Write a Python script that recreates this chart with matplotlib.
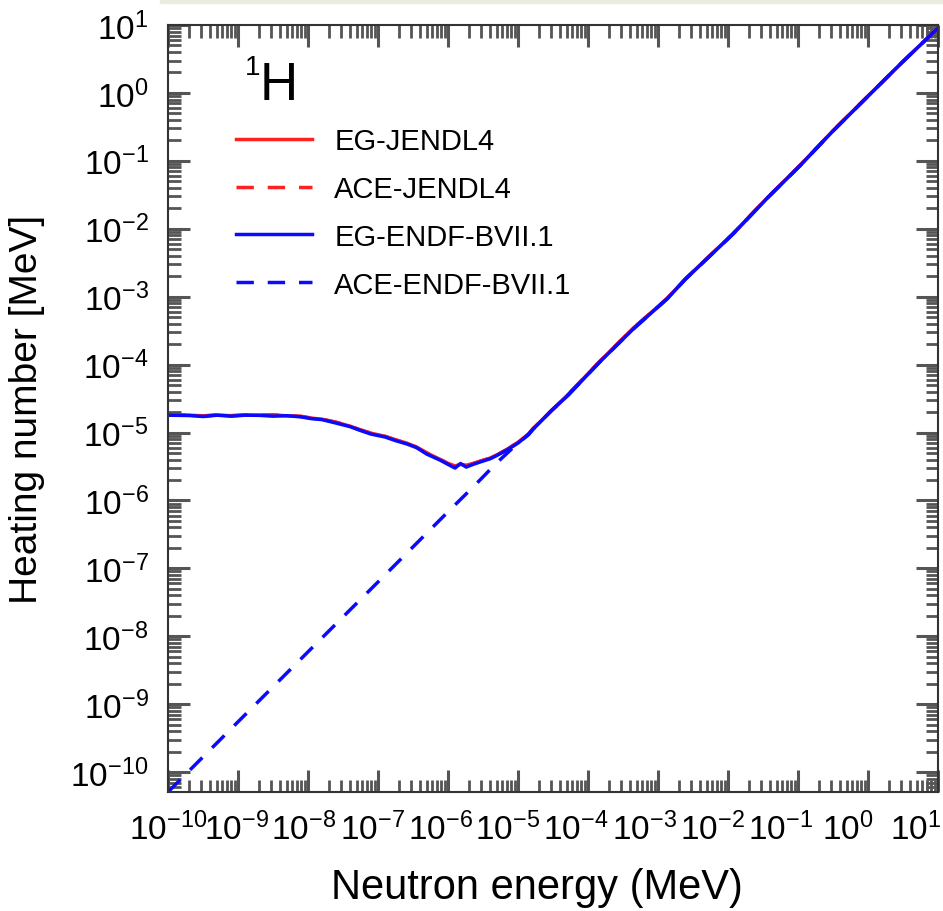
#!/usr/bin/env python3

# Heating number of 1H versus neutron energy, EG vs ACE, JENDL-4 and ENDF/B-VII.1

import matplotlib
matplotlib.use("Agg")
import matplotlib.pyplot as plt
from matplotlib.ticker import LogLocator, NullFormatter, FixedLocator
from matplotlib.patches import Rectangle
from matplotlib.transforms import ScaledTranslation

OUTPUT_FILENAME = "out.png"
FIGURE_SIZE     = (9.43, 9.12)

plt.rcParams['font.family'] = ['Liberation Sans', 'DejaVu Sans']
plt.rcParams['mathtext.fontset'] = 'custom'
plt.rcParams['mathtext.rm'] = 'Liberation Sans'
plt.rcParams['mathtext.it'] = 'Liberation Sans:italic'
plt.rcParams['mathtext.bf'] = 'Liberation Sans:bold'

# energies (MeV) of the EG curves
energy = [1.0e-10, 2.0e-10, 3.2e-10, 5.0e-10, 7.9e-10, 1.26e-9, 2.0e-9, 3.2e-9,
          5.0e-9, 7.9e-9, 1.12e-8, 1.58e-8, 2.5e-8, 4.0e-8, 5.5e-8, 7.9e-8,
          1.26e-7, 1.78e-7, 2.57e-7, 3.55e-7, 5.0e-7, 7.8e-7, 1.0e-6, 1.26e-6,
          1.51e-6, 1.82e-6, 2.29e-6, 3.16e-6, 3.98e-6, 5.0e-6, 7.1e-6, 1.0e-5,
          1.41e-5, 1.64e-5, 2.04e-5, 3.0e-5, 5.0e-5, 1.48e-4, 4.37e-4, 1.35e-3,
          2.45e-3, 1.17e-2, 3.63e-2, 1.07e-1, 3.16e-1, 9.1e-1, 3.16, 10.0]

h_endf = [1.80e-5, 1.78e-5, 1.72e-5, 1.80e-5, 1.74e-5, 1.80e-5, 1.79e-5, 1.74e-5,
          1.77e-5, 1.70e-5, 1.60e-5, 1.55e-5, 1.38e-5, 1.22e-5, 1.08e-5, 9.5e-6,
          8.6e-6, 7.6e-6, 6.8e-6, 6.0e-6, 4.8e-6, 3.9e-6, 3.4e-6, 3.0e-6,
          3.5e-6, 3.1e-6, 3.4e-6, 3.8e-6, 4.1e-6, 4.6e-6, 5.6e-6, 7.0e-6,
          9.3e-6, 1.12e-5, 1.40e-5, 2.1e-5, 3.4e-5, 1.10e-4, 3.3e-4, 9.3e-4,
          1.80e-3, 8.3e-3, 2.82e-2, 8.5e-2, 2.75e-1, 8.1e-1, 2.9, 9.0]

h_jendl = [1.82e-5, 1.80e-5, 1.76e-5, 1.81e-5, 1.77e-5, 1.81e-5, 1.80e-5, 1.82e-5,
           1.76e-5, 1.73e-5, 1.63e-5, 1.57e-5, 1.42e-5, 1.24e-5, 1.10e-5, 9.8e-6,
           8.8e-6, 7.8e-6, 7.0e-6, 6.1e-6, 5.0e-6, 4.0e-6, 3.5e-6, 3.2e-6,
           3.4e-6, 3.3e-6, 3.5e-6, 3.9e-6, 4.2e-6, 4.7e-6, 5.7e-6, 7.2e-6,
           9.5e-6, 1.14e-5, 1.42e-5, 2.1e-5, 3.5e-5, 1.12e-4, 3.4e-4, 9.4e-4,
           1.82e-3, 8.4e-3, 2.85e-2, 8.6e-2, 2.78e-1, 8.2e-1, 2.9, 9.0]

# ACE ENDF/B-VII.1 without the thermal part (falls on the EG curve above ~1e-5 MeV)
energy_ace_endf = [1.0e-10, 1.0e-9, 1.0e-8, 1.0e-7, 1.0e-6, 2.29e-6, 5.0e-6,
                   1.0e-5, 1.41e-5, 1.64e-5, 2.04e-5, 3.0e-5, 5.0e-5, 1.48e-4,
                   4.37e-4, 1.35e-3, 2.45e-3, 1.17e-2, 3.63e-2, 1.07e-1,
                   3.16e-1, 9.1e-1, 3.16, 10.0]
h_ace_endf = [5.1e-11, 5.5e-10, 5.9e-9, 6.3e-8, 6.8e-7, 1.58e-6, 3.6e-6,
              7.0e-6, 9.3e-6, 1.12e-5, 1.40e-5, 2.1e-5, 3.4e-5, 1.10e-4,
              3.3e-4, 9.3e-4, 1.80e-3, 8.3e-3, 2.82e-2, 8.5e-2,
              2.75e-1, 8.1e-1, 2.9, 9.0]

labels = ["EG-JENDL4", "ACE-JENDL4", "EG-ENDF-BVII.1", "ACE-ENDF-BVII.1"]

x_decades = [10.0**k for k in range(-10, 2)]

RED  = '#ff2020'
BLUE = '#0a0aff'
DASH = (5.0, 4.0)
LW   = 2.5

fig = plt.figure(figsize=FIGURE_SIZE, dpi=100)
fig.patches.append(Rectangle((160/943, 1 - 4/912), 1, 4/912, transform=fig.transFigure,
                             color='#ecebdf', zorder=0))
ax = fig.add_axes([168/943, 1 - 793/912, 770/943, 767/912])

ax.plot(energy, h_jendl, color=RED, lw=LW, label=labels[0])
ax.plot(energy, h_jendl, color=RED, lw=LW, dashes=DASH, label=labels[1])
ax.plot(energy, h_endf, color=BLUE, lw=LW, label=labels[2])
ax.plot(energy_ace_endf, h_ace_endf, color=BLUE, lw=LW, dashes=DASH, label=labels[3])

ax.set_xscale('log')
ax.set_yscale('log')
ax.set_xlim(1e-10, 10)
ax.set_ylim(5.1e-11, 10)

ax.xaxis.set_major_locator(FixedLocator(x_decades))
ax.yaxis.set_major_locator(LogLocator(base=10, numticks=30))
for axis in (ax.xaxis, ax.yaxis):
    axis.set_minor_locator(LogLocator(base=10, subs=range(2, 10), numticks=30))
    axis.set_minor_formatter(NullFormatter())

ax.tick_params(which='both', direction='in', top=True, right=True, color='#555555')
ax.tick_params(which='major', length=16, width=2.2, labelsize=24)
ax.tick_params(which='minor', length=9, width=2.0)
ax.tick_params(axis='x', which='major', pad=14)
ax.tick_params(axis='y', which='major', pad=14)

for s in ax.spines.values():
    s.set_linewidth(1.5)
    s.set_color('#333333')

ax.set_xlabel("Neutron energy (MeV)", fontsize=30)
ax.xaxis.set_label_coords(0.479, -0.098)
ax.set_ylabel("Heating number [MeV]", fontsize=28, labelpad=18)

ax.text(0.119, 0.9035, "H", transform=ax.transAxes, fontsize=38, ha='left', va='baseline')
ax.text(0.100, 0.936, "1", transform=ax.transAxes, fontsize=20, ha='left', va='baseline')

ax.legend(loc='upper left', bbox_to_anchor=(0.07, 0.886), frameon=False, fontsize=21,
          handlelength=2.6, handletextpad=0.75, labelspacing=0.68, borderpad=0)

# the x tick labels in the picture drift a little to the left of their ticks
fig.canvas.draw()
for i, lab in enumerate(ax.get_xticklabels()):
    lab.set_transform(lab.get_transform() + ScaledTranslation(-0.02 * i, 0, fig.dpi_scale_trans))

fig.savefig(OUTPUT_FILENAME, dpi=100)
print('Done.')
